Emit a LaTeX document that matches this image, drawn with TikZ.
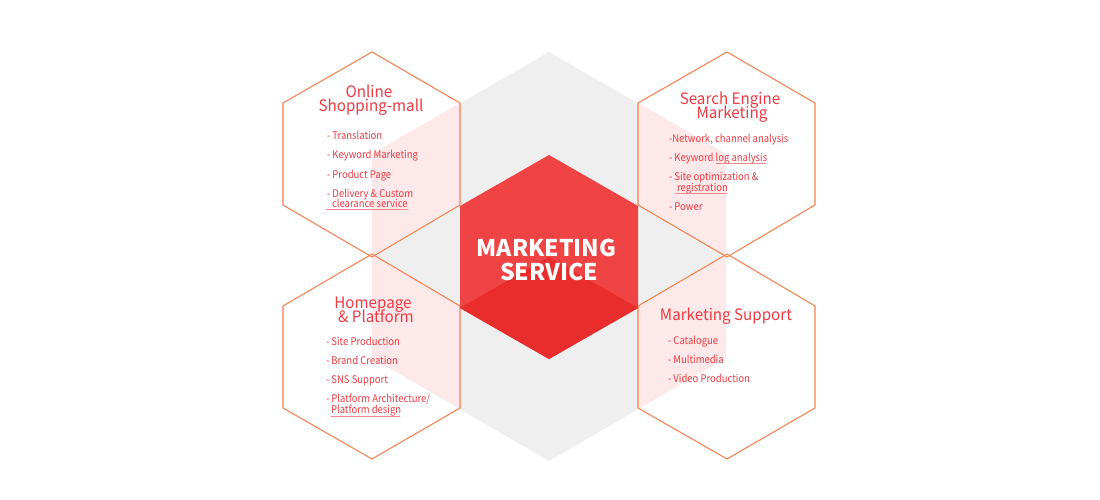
\documentclass[tikz,border=0pt]{standalone}
\usepackage{fontspec}
\setmainfont{Noto Sans CJK KR}
\newfontfamily\itemfont[FakeStretch=0.9]{Noto Sans CJK KR}
\newfontfamily\titlefont[FakeStretch=0.96]{Noto Sans CJK KR}
\definecolor{hexgray}{HTML}{EFEFEF}
\definecolor{hexpink}{HTML}{FDE9E9}
\definecolor{hexline}{HTML}{F6804F}
\definecolor{hexred}{HTML}{F04343}
\definecolor{hexdark}{HTML}{E92C2C}
\definecolor{textred}{HTML}{EE3A42}
\tikzset{
  hexoutline/.style={draw=hexline,line width=0.6pt},
  title/.style={text=textred,inner sep=0pt,anchor=base,yshift=-0.4pt,font=\titlefont\fontsize{9}{9}\selectfont},
  item/.style={text=textred,inner sep=0pt,anchor=base west,xshift=0.4pt,yshift=-0.3pt,font=\itemfont\fontsize{6}{6}\selectfont},
  itemline/.style={draw=textred!60,line width=0.3pt},
  bigword/.style={text=white,inner sep=0pt,anchor=base,font=\fontsize{13.1}{13.1}\bfseries\selectfont}
}
\begin{document}
\begin{tikzpicture}[line cap=round,line join=round,x=0.02cm,y=-0.02cm]

\useasboundingbox (0,0) rectangle (1100,500);
\fill [hexgray] (549,52) -- (726,154) -- (726,358) -- (549,461) -- (372,358) -- (372,154) -- cycle;
%%%
\fill [hexpink] (460,103) -- (372,154) -- (372,256) -- (460,205) -- cycle;
\fill [hexpink] (638,103) -- (726,154) -- (726,256) -- (638,205) -- cycle;
\fill [hexpink] (372,255) -- (460,306) -- (460,408) -- (372,358) -- cycle;
\fill [hexpink] (726,255) -- (638,306) -- (638,408) -- (726,358) -- cycle;
%%%
\draw [hexoutline] (372,52) -- (460,103) -- (460,205) -- (372,257) -- (283,205) -- (283,103) -- cycle;
\draw [hexoutline] (727,52) -- (815,103) -- (815,205) -- (727,257) -- (638,205) -- (638,103) -- cycle;
\draw [hexoutline] (372,254) -- (460,306) -- (460,408) -- (372,459) -- (283,408) -- (283,306) -- cycle;
\draw [hexoutline] (727,254) -- (815,306) -- (815,408) -- (727,459) -- (638,408) -- (638,306) -- cycle;
%%%
\fill [hexred] (549,155) -- (638,206) -- (638,308) -- (549,359) -- (460,308) -- (460,206) -- cycle;
\fill [hexdark] (549,257) -- (638,308) -- (549,359) -- (460,308) -- cycle;
\node [bigword] (marketing) at (546.5,256) {MARKETING};
\node [bigword] (service) at (549,280) {SERVICE};
%% top left
\node [title] (onlinetitle) at (369,97) {Online};
\node [title] (shoptitle) at (371,111) {Shopping-mall};
\node [item] (online1) at (326,139) {- Translation};
\node [item] (online2) at (326,158) {- Keyword Marketing};
\node [item] (online3) at (326,178) {- Product Page};
\node [item] (online4) at (326,197) {- Delivery \& Custom};
\node [item] (online5) at (331,207) {clearance service};
\coordinate (onlineA) at (326,209);
\coordinate (onlineB) at (408,209);
\draw [itemline] (onlineA) -- (onlineB);
%% top right
\node [title] (searchtitle) at (730,104) {Search Engine};
\node [title] (markettitle) at (732,118) {Marketing};
\node [item] (search1) at (668,142) {-Network, channel analysis};
\node [item] (search2) at (668,161) {- Keyword log analysis};
\node [item] (search3) at (668,180) {- Site optimization \&};
\node [item] (search4) at (676,191) {registration};
\node [item] (search5) at (668,210) {- Power};
\coordinate (searchA) at (716,163);
\coordinate (searchB) at (766,163);
\coordinate (searchC) at (676,193);
\coordinate (searchD) at (727,193);
\draw [itemline] (searchA) -- (searchB);
\draw [itemline] (searchC) -- (searchD);
%% bottom left
\node [title] (hometitle) at (373,308) {Homepage};
\node [title] (platformtitle) at (376,322) {\& Platform};
\node [item] (home1) at (325,345) {- Site Production};
\node [item] (home2) at (325,364) {- Brand Creation};
\node [item] (home3) at (325,383) {- SNS Support};
\node [item] (home4) at (325,402) {- Platform Architecture/};
\node [item] (home5) at (330,413) {Platform design};
\coordinate (homeA) at (331,416);
\coordinate (homeB) at (400,416);
\draw [itemline] (homeA) -- (homeB);
%% bottom right
\node [title] (supporttitle) at (726,320) {Marketing Support};
\node [item] (support1) at (667,344) {- Catalogue};
\node [item] (support2) at (667,363) {- Multimedia};
\node [item] (support3) at (667,382) {- Video Production};
\end{tikzpicture}
\end{document}
